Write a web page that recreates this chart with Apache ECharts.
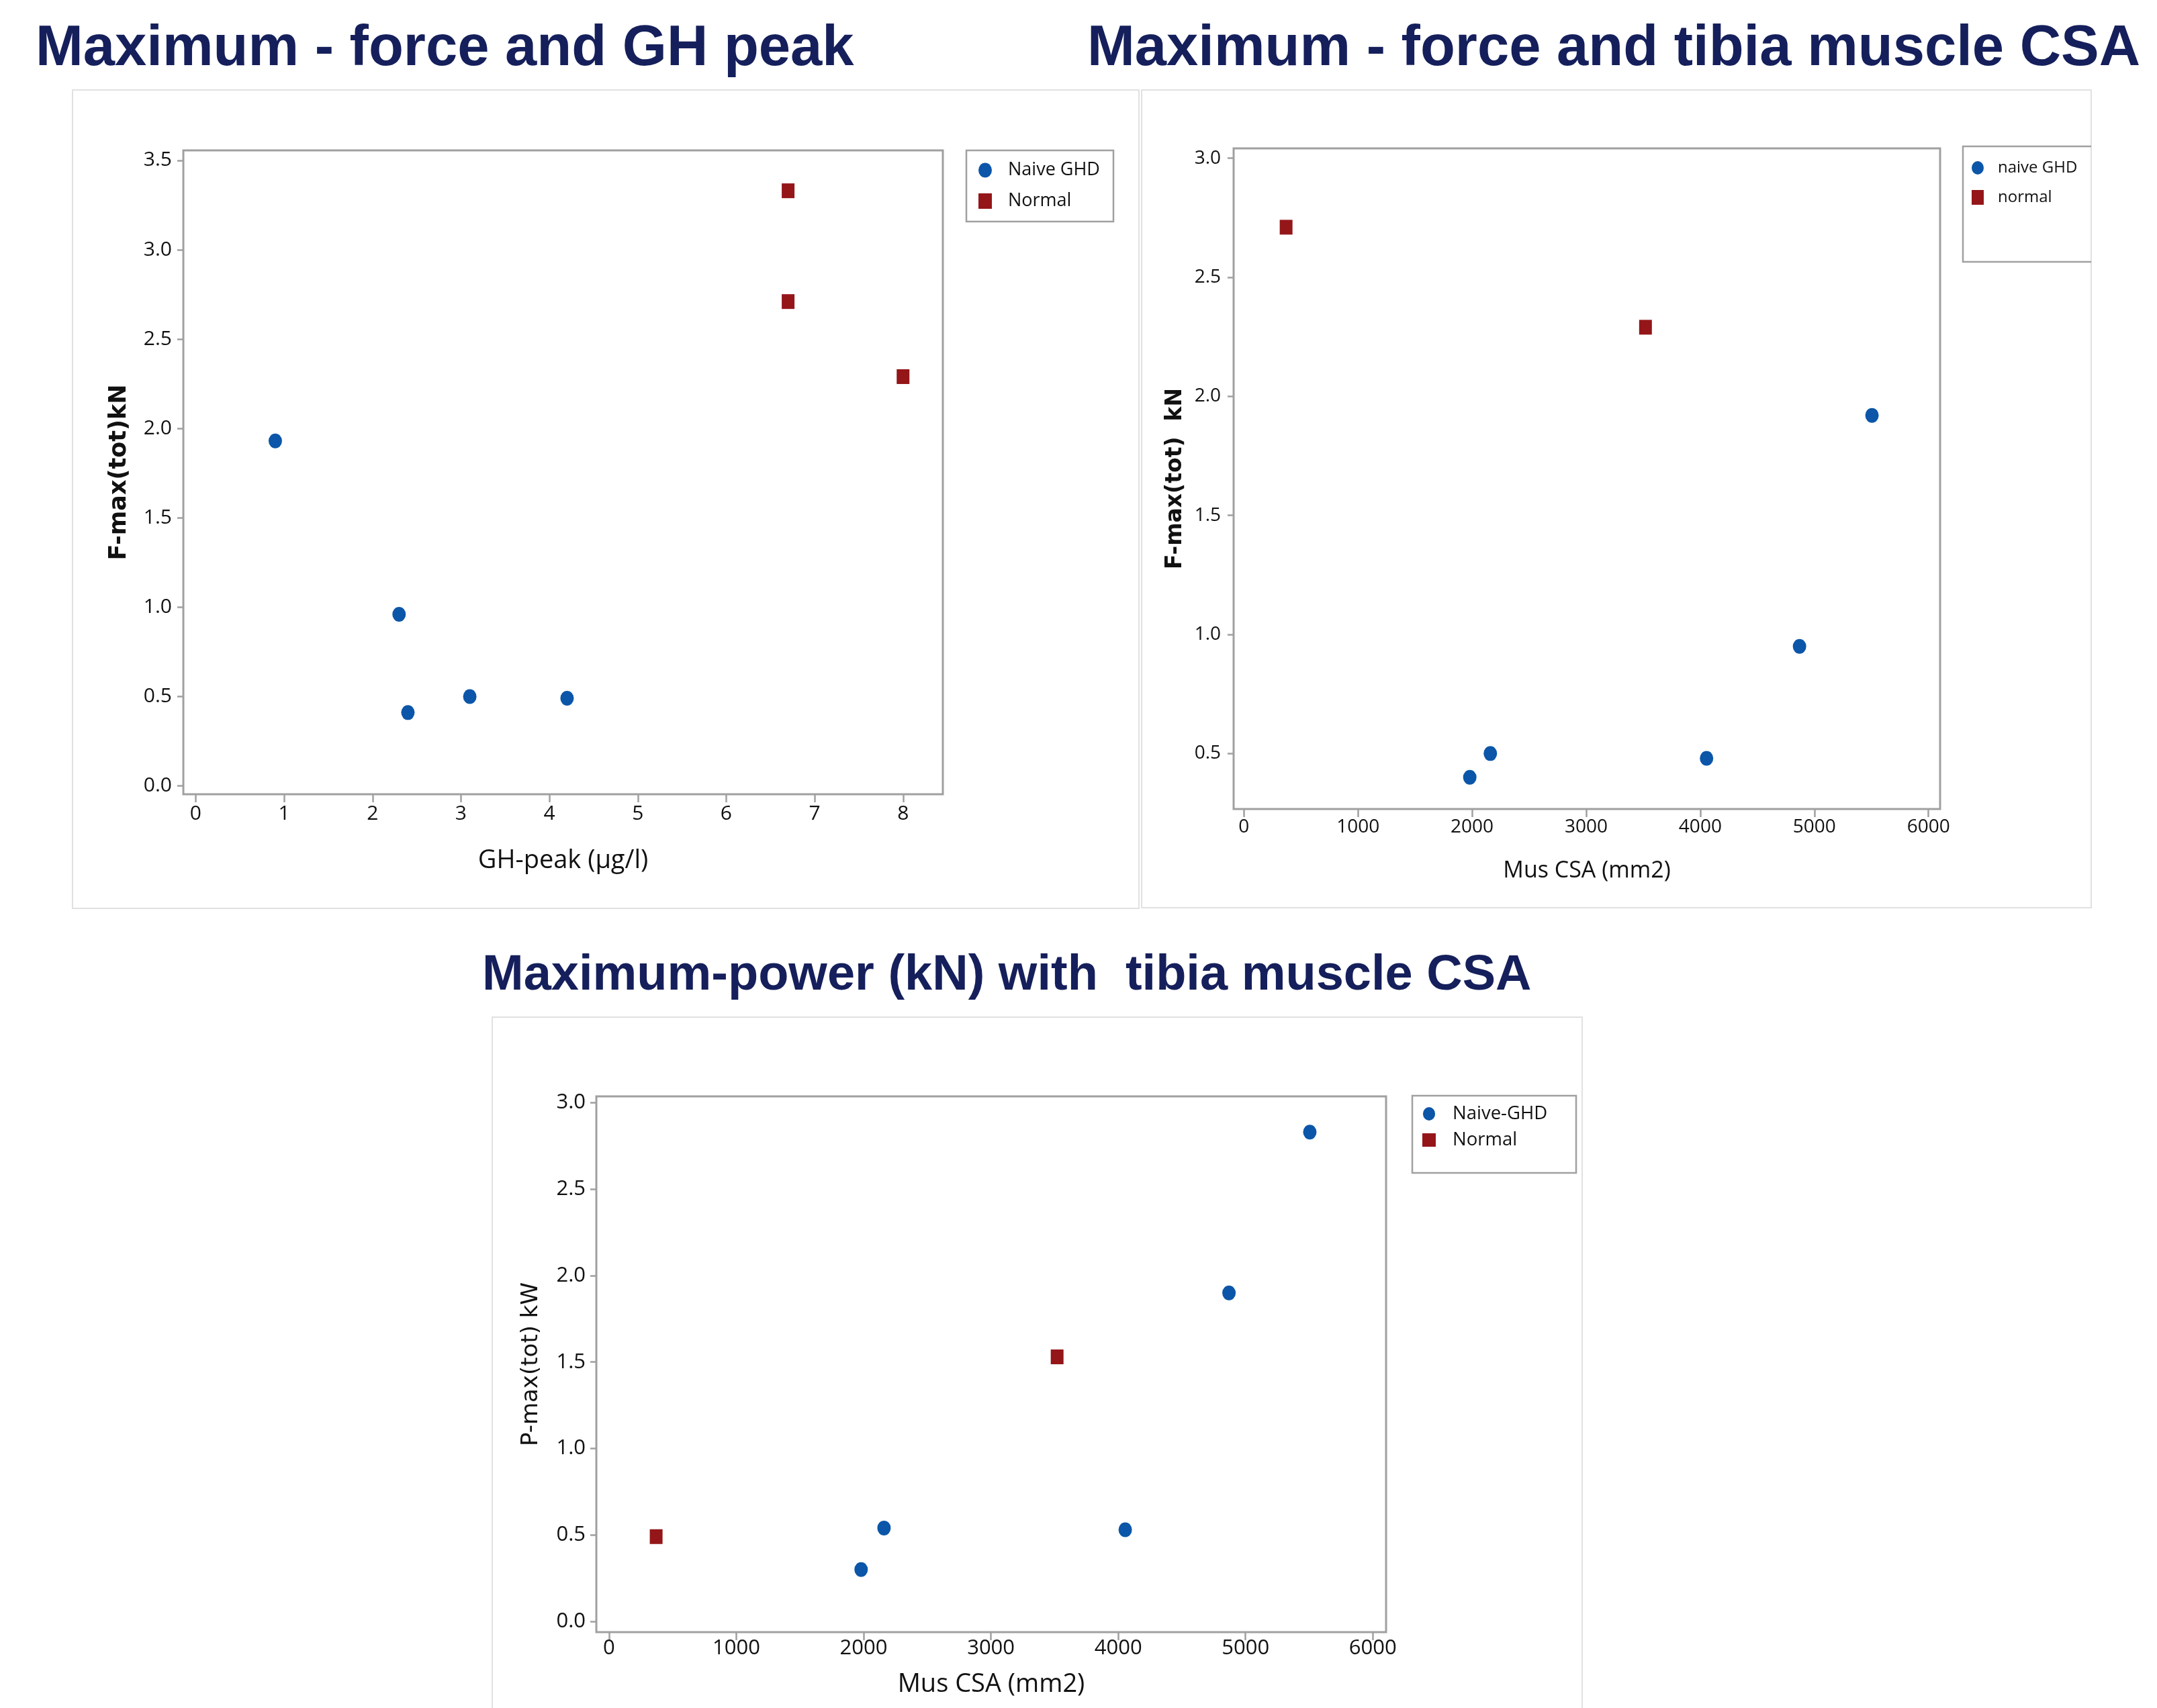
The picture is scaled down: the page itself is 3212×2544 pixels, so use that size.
<!DOCTYPE html>
<html>
<head>
<meta charset="utf-8">
<title>Maximum force and power</title>
<script src="https://cdn.jsdelivr.net/npm/echarts@6/dist/echarts.min.js"></script>
<style>
  html, body { margin: 0; padding: 0; background: #fff; }
  #chart { width: 3212px; height: 2544px; }
</style>
</head>
<body>
<div id="chart"></div>
<script>
// top left: F-max vs GH peak
const ghNaiveX = [ 0.9, 2.3, 2.4, 3.1, 4.2 ]
const ghNaiveY = [ 1.93, 0.96, 0.41, 0.50, 0.49 ]
const ghNormalX = [ 6.7, 6.7, 8.0 ]
const ghNormalY = [ 3.33, 2.71, 2.29 ]

// muscle CSA, same subjects in the two other charts
const csaNaive = [ 1980, 2160, 4055, 4870, 5505 ]
const csaNormal = [ 370, 3520 ]
const forceNaive = [ 0.40, 0.50, 0.48, 0.95, 1.92 ]
const forceNormal = [ 2.71, 2.29 ]
const powerNaive = [ 0.30, 0.54, 0.53, 1.90, 2.83 ]
const powerNormal = [ 0.49, 1.53 ]

// tick labels
const ghTicks = [ 0, 1, 2, 3, 4, 5, 6, 7, 8 ]
const forceTicksGh = [ 0, 0.5, 1, 1.5, 2, 2.5, 3, 3.5 ]
const csaTicks = [ 0, 1000, 2000, 3000, 4000, 5000, 6000 ]
const forceTicksCsa = [ 0.5, 1, 1.5, 2, 2.5, 3 ]
const powerTicks = [ 0, 0.5, 1, 1.5, 2, 2.5, 3 ]

const BLUE = '#0b56a8'
const RED = '#941619'
const GREY = '#a0a0a0'
const INK = '#111111'
const TICK_FONT = '"Open Sans", sans-serif'
const ELLIPSE = 'path://M10,0A10,11,0,1,1,10,22A10,11,0,1,1,10,0Z'

const pairs = ( xs, ys ) => xs.map( ( x, i ) => [ x, ys[ i ] ] )

const axis = o => ( {
  type : 'value',
  gridIndex : o.grid,
  min : o.min,
  max : o.max,
  axisLine : { show : false, onZero : false },
  axisTick : {
    show : true,
    inside : false,
    length : o.tickLen,
    customValues : o.ticks,
    lineStyle : { color : GREY, width : 2.5 }
  },
  axisLabel : {
    customValues : o.ticks,
    margin : o.margin,
    formatter : o.fmt,
    fontFamily : TICK_FONT,
    fontSize : o.fontSize,
    color : INK
  },
  splitLine : { show : false },
  name : o.name,
  nameLocation : 'middle',
  nameGap : o.nameGap,
  nameTextStyle : o.nameStyle
} )

const oneDecimal = v => v.toFixed( 1 )
const plain = v => String( v )

const scatter = ( name, x, y, data, isNormal ) => ( {
  type : 'scatter',
  name : name,
  xAxisIndex : x,
  yAxisIndex : y,
  data : data,
  symbol : isNormal ? 'rect' : ELLIPSE,
  symbolSize : isNormal ? [ 19, 22 ] : [ 20, 22 ],
  itemStyle : { color : isNormal ? RED : BLUE, opacity : 1 },
  emphasis : { disabled : true },
  animation : false
} )

const legend = o => ( {
  orient : 'vertical',
  left : o.left,
  top : o.top,
  padding : 0,
  itemWidth : o.iw,
  itemHeight : o.ih,
  itemGap : o.gap,
  selectedMode : false,
  data : o.data,
  textStyle : {
    fontFamily : 'Open Sans',
    fontSize : o.fontSize,
    lineHeight : o.fontSize,
    color : INK,
    padding : [ 0, 0, 0, o.textPad ]
  }
} )

const titleStyle = size => ( {
  fontFamily : 'Liberation Sans',
  fontWeight : 'bold',
  fontSize : size,
  color : '#151f5b'
} )

const frame = ( x, y, w, h ) => ( {
  type : 'rect',
  silent : true,
  z : -10,
  shape : { x : x, y : y, width : w, height : h },
  style : { fill : 'none', stroke : '#e1e1e1', lineWidth : 2 }
} )

const legendBox = ( x, y, w, h ) => ( {
  type : 'rect',
  silent : true,
  shape : { x : x, y : y, width : w, height : h },
  style : { fill : '#fff', stroke : GREY, lineWidth : 2.5 }
} )

const chart = echarts.init( document.getElementById( 'chart' ) )

chart.setOption( {
  backgroundColor : '#ffffff',
  animation : false,
  title : [
    { text : 'Maximum - force and GH peak', left : 53, top : 31, padding : 0, textStyle : titleStyle( 85 ) },
    { text : 'Maximum - force and tibia muscle CSA', left : 1619, top : 31, padding : 0, textStyle : titleStyle( 85 ) },
    { text : 'Maximum-power (kN) with  tibia muscle CSA', left : 718, top : 1417, padding : 0, textStyle : titleStyle( 74 ) }
  ],
  graphic : [
    frame( 108, 134, 1588, 1219 ),
    frame( 1700, 134, 1414, 1218 ),
    frame( 733, 1515, 1623, 1100 ),
    legendBox( 1439, 224, 219, 106 ),
    {
      type : 'polyline',
      silent : true,
      shape : { points : [ [ 3114, 218 ], [ 2923, 218 ], [ 2923, 390 ], [ 3114, 390 ] ] },
      style : { fill : null, stroke : GREY, lineWidth : 2.5 }
    },
    legendBox( 2103, 1632, 244, 115 )
  ],
  grid : [
    { left : 273, top : 224, width : 1131, height : 959, show : true, borderColor : GREY, borderWidth : 3, backgroundColor : 'transparent' },
    { left : 1837, top : 221, width : 1052, height : 984, show : true, borderColor : GREY, borderWidth : 3, backgroundColor : 'transparent' },
    { left : 888, top : 1633, width : 1176, height : 798, show : true, borderColor : GREY, borderWidth : 3, backgroundColor : 'transparent' }
  ],
  xAxis : [
    axis( {
      grid : 0, min : -0.14, max : 8.45, ticks : ghTicks, tickLen : 12, margin : 14, fmt : plain, fontSize : 30,
      name : 'GH-peak (µg/l)', nameGap : 80,
      nameStyle : { fontFamily : 'Open Sans', fontSize : 38, color : INK }
    } ),
    axis( {
      grid : 1, min : -90, max : 6102, ticks : csaTicks, tickLen : 12, margin : 13, fmt : plain, fontSize : 28,
      name : 'Mus CSA (mm2)', nameGap : 75,
      nameStyle : { fontFamily : 'Open Sans', fontSize : 34, color : INK }
    } ),
    axis( {
      grid : 2, min : -100, max : 6104, ticks : csaTicks, tickLen : 12, margin : 9, fmt : plain, fontSize : 31,
      name : 'Mus CSA (mm2)', nameGap : 59,
      nameStyle : { fontFamily : 'Open Sans', fontSize : 38, color : INK }
    } )
  ],
  yAxis : [
    axis( {
      grid : 0, min : -0.047, max : 3.556, ticks : forceTicksGh, tickLen : 9, margin : 17, fmt : oneDecimal, fontSize : 30,
      name : 'F-max(tot)kN', nameGap : 78,
      nameStyle : { fontFamily : 'DejaVu Sans', fontWeight : 'bold', fontSize : 35, color : INK }
    } ),
    axis( {
      grid : 1, min : 0.267, max : 3.041, ticks : forceTicksCsa, tickLen : 9, margin : 19, fmt : oneDecimal, fontSize : 28,
      name : 'F-max(tot)  kN', nameGap : 70,
      nameStyle : { fontFamily : 'DejaVu Sans', fontWeight : 'bold', fontSize : 33, color : INK }
    } ),
    axis( {
      grid : 2, min : -0.0625, max : 3.037, ticks : powerTicks, tickLen : 9, margin : 16, fmt : oneDecimal, fontSize : 31,
      name : 'P-max(tot) kW', nameGap : 80,
      nameStyle : { fontFamily : 'DejaVu Sans', fontSize : 34, color : INK }
    } )
  ],
  legend : [
    legend( { left : 1457, top : 240, iw : 20, ih : 23, gap : 19, fontSize : 27, textPad : 19, data : [ 'Naive GHD', 'Normal' ] } ),
    legend( { left : 2936, top : 238, iw : 18, ih : 22, gap : 20, fontSize : 24, textPad : 16, data : [ 'naive GHD', 'normal' ] } ),
    legend( { left : 2118, top : 1645, iw : 20, ih : 20, gap : 11, fontSize : 27.5, textPad : 20, data : [ 'Naive-GHD', 'Normal' ] } )
  ],
  series : [
    scatter( 'Naive GHD', 0, 0, pairs( ghNaiveX, ghNaiveY ), false ),
    scatter( 'Normal', 0, 0, pairs( ghNormalX, ghNormalY ), true ),
    scatter( 'naive GHD', 1, 1, pairs( csaNaive, forceNaive ), false ),
    scatter( 'normal', 1, 1, pairs( csaNormal, forceNormal ), true ),
    scatter( 'Naive-GHD', 2, 2, pairs( csaNaive, powerNaive ), false ),
    scatter( 'Normal', 2, 2, pairs( csaNormal, powerNormal ), true )
  ]
} )

window.addEventListener( 'resize', () => chart.resize() )
</script>
</body>
</html>
